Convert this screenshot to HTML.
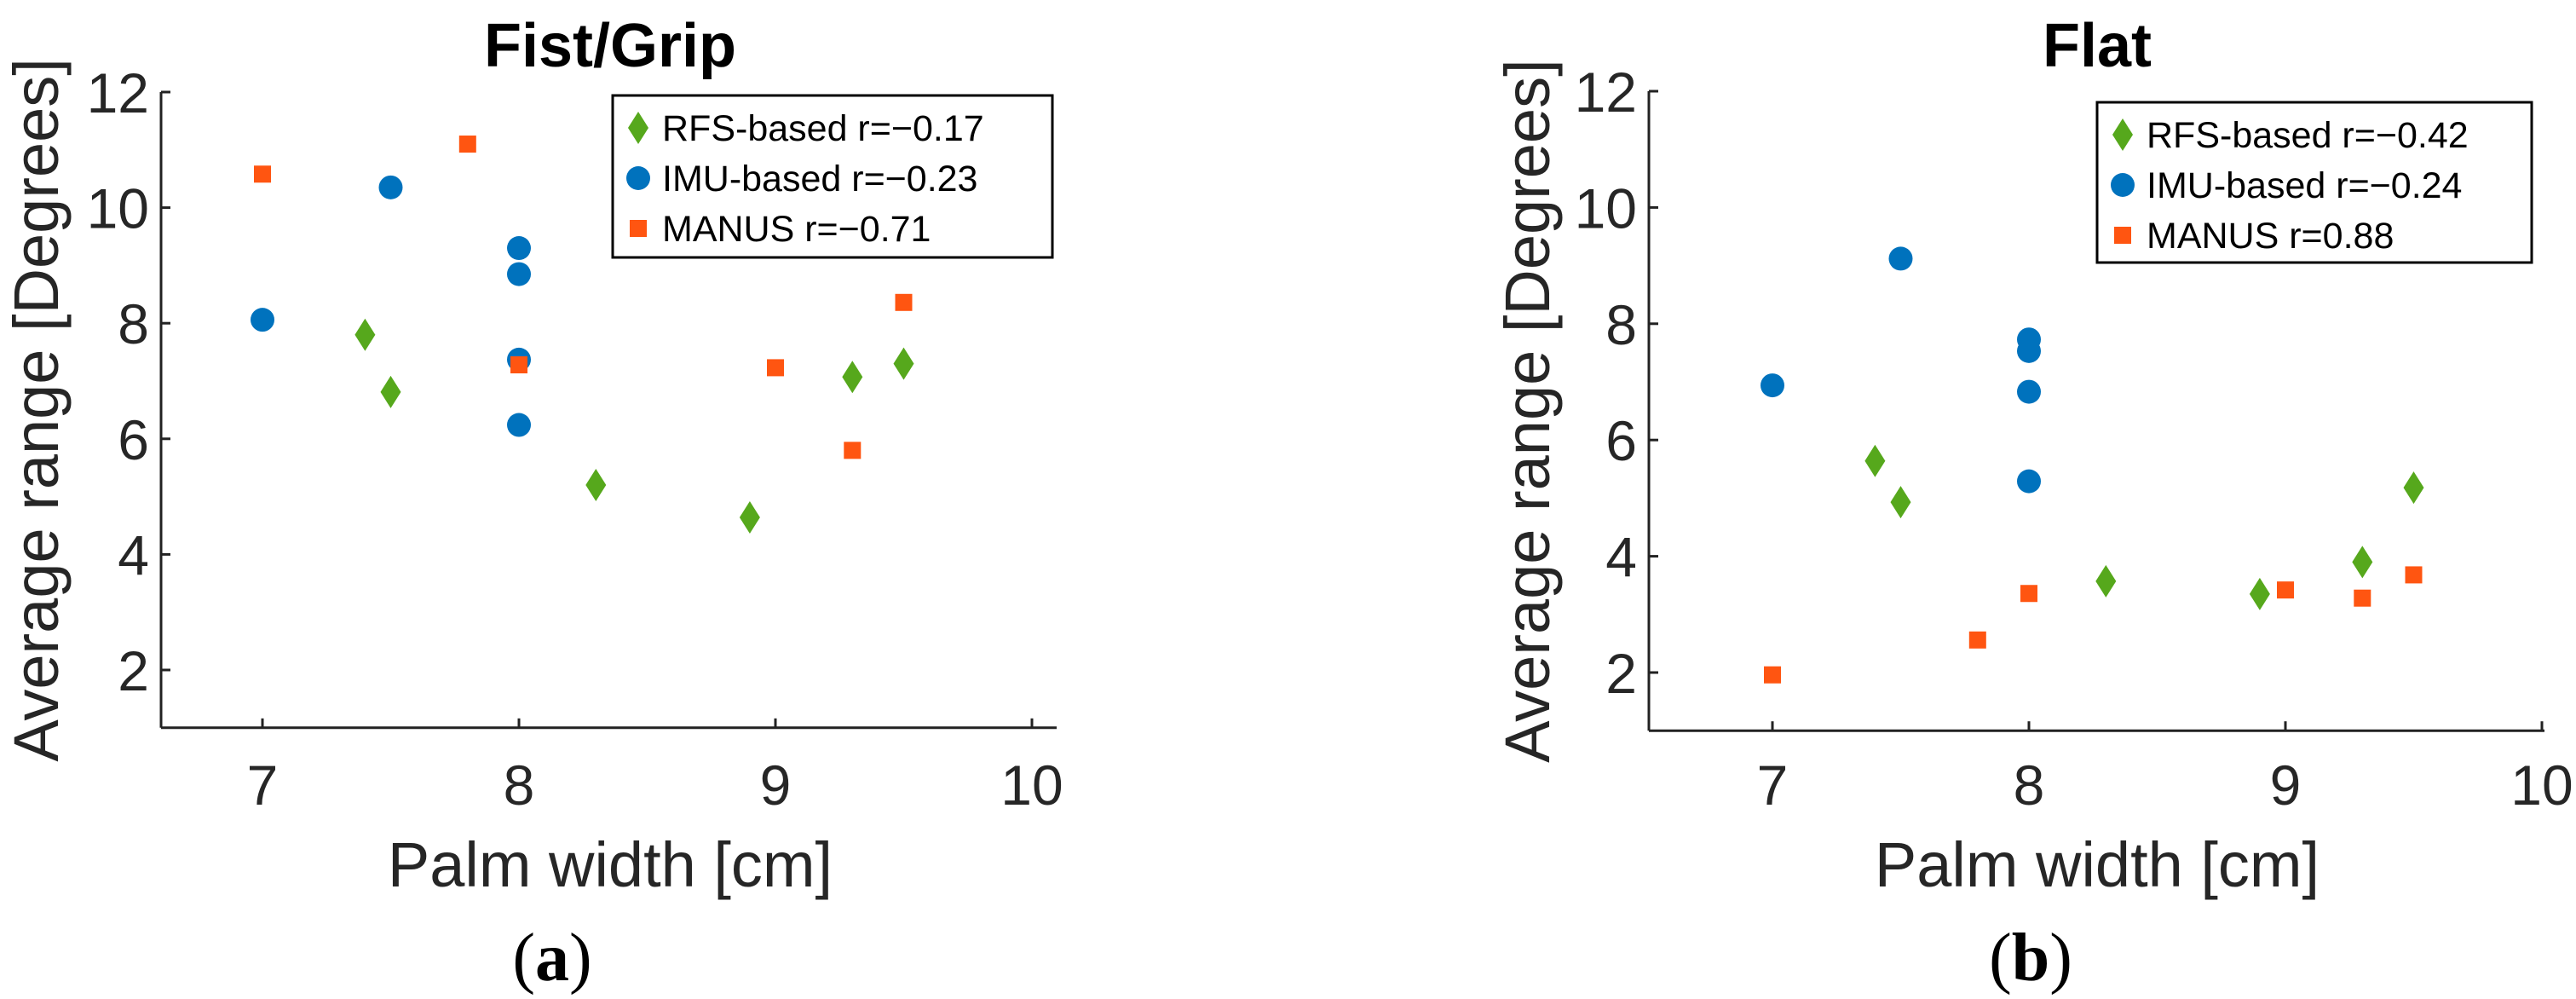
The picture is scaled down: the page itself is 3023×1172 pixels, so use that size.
<!DOCTYPE html>
<html><head><meta charset="utf-8"><style>
html,body{margin:0;padding:0;background:#fff;}
svg{display:block;font-family:"Liberation Sans",Arial,sans-serif;}
</style></head><body>
<svg id="fig" width="3023" height="1172" viewBox="0 0 3023 1172"></svg>
<script>
const xTicks = [7, 8, 9, 10];
const yTicks = [2, 4, 6, 8, 10, 12];
const seriesNames = ["RFS-based", "IMU-based", "MANUS"];
const rA = ["r=\u22120.17", "r=\u22120.23", "r=\u22120.71"];
const rB = ["r=\u22120.42", "r=\u22120.24", "r=0.88"];
const rfsXA = [7.4, 7.5, 8.3, 8.9, 9.3, 9.5];
const rfsYA = [7.8, 6.81, 5.2, 4.64, 7.07, 7.3];
const imuXA = [7, 7.5, 8, 8, 8, 8];
const imuYA = [8.06, 10.35, 9.3, 8.85, 7.37, 6.24];
const manXA = [7, 7.8, 8, 9, 9.3, 9.5];
const manYA = [10.58, 11.1, 7.28, 7.23, 5.8, 8.36];
const rfsXB = [7.4, 7.5, 8.3, 8.9, 9.3, 9.5];
const rfsYB = [5.64, 4.93, 3.57, 3.35, 3.9, 5.18];
const imuXB = [7, 7.5, 8, 8, 8, 8];
const imuYB = [6.94, 9.12, 7.73, 7.53, 6.83, 5.29];
const manXB = [7, 7.8, 8, 9, 9.3, 9.5];
const manYB = [1.96, 2.56, 3.36, 3.42, 3.28, 3.68];

const NS = "http://www.w3.org/2000/svg";
const svg = document.getElementById("fig");
const GREEN = "#56a81c", BLUE = "#0072bd", ORANGE = "#ff5511";
function mk(tag, attrs, parent, text) {
  const e = document.createElementNS(NS, tag);
  for (const k in attrs) e.setAttribute(k, attrs[k]);
  if (text !== undefined) e.textContent = text;
  (parent || svg).appendChild(e);
  return e;
}
function diamond(g, cx, cy) {
  return mk("polygon", {points: `${cx},${cy-19} ${cx+12},${cy} ${cx},${cy+19} ${cx-12},${cy}`, fill: GREEN}, g);
}
function circle(g, cx, cy) { return mk("circle", {cx: cx, cy: cy, r: 14, fill: BLUE}, g); }
function square(g, cx, cy) { return mk("rect", {x: cx-10, y: cy-10, width: 20, height: 20, fill: ORANGE}, g); }

function panel(cfg) {
  const g = mk("g", {});
  
  
  const X = v => cfg.x0 + (v - 7) * 301;
  const Y = v => cfg.yTop + (12 - v) * cfg.ppu;
  const yBot = Y(1);
  const ya = mk("line", {x1: cfg.axX, y1: Y(12), x2: cfg.axX, y2: yBot, stroke: "#222", "stroke-width": 3}, g);
  
  
  const xa = mk("line", {x1: cfg.axX, y1: yBot, x2: cfg.axEnd, y2: yBot, stroke: "#222", "stroke-width": 3}, g);
  
  
  xTicks.forEach(t => {
    mk("line", {x1: X(t), y1: yBot, x2: X(t), y2: yBot - 11, stroke: "#222", "stroke-width": 3}, g);
    const tl = mk("text", {x: X(t), y: 944, "text-anchor": "middle", "font-size": 66, fill: "#262626"}, g, String(t));
    
    
  });
  yTicks.forEach(t => {
    mk("line", {x1: cfg.axX, y1: Y(t), x2: cfg.axX + 11, y2: Y(t), stroke: "#222", "stroke-width": 3}, g);
    const tl = mk("text", {x: cfg.axX - 14, y: Y(t) + 24, "text-anchor": "end", "font-size": 66, fill: "#262626"}, g, String(t));
    
    
  });
  const t = mk("text", {x: cfg.titleX, y: 78, "text-anchor": "middle", "font-size": 72, "font-weight": "bold", fill: "#000"}, g, cfg.title);
  
  
  const xl = mk("text", {x: cfg.titleX, y: 1040, "text-anchor": "middle", "font-size": 74, fill: "#262626"}, g, "Palm width [cm]");
  
  
  const yl = mk("text", {x: 0, y: 0, "text-anchor": "middle", "font-size": 74, fill: "#262626", transform: `translate(${cfg.ylX},${(Y(12)+yBot)/2}) rotate(-90)`}, g, "Average range [Degrees]");
  
  
  const cap = mk("text", {x: cfg.capX, y: 1150, "text-anchor": "middle", "font-size": 80, "font-family": "Liberation Serif, serif", fill: "#000"}, g);
  mk("tspan", {}, cap, "(");
  mk("tspan", {"font-weight": "bold"}, cap, cfg.cap);
  mk("tspan", {}, cap, ")");
  
  
  cfg.rfsX.forEach((v, i) => {
    const m = diamond(g, X(v), Y(cfg.rfsY[i]));
    
    
  });
  cfg.imuX.forEach((v, i) => {
    const m = circle(g, X(v), Y(cfg.imuY[i]));
    
    
  });
  cfg.manX.forEach((v, i) => {
    const m = square(g, X(v), Y(cfg.manY[i]));
    
    
  });
  const lg = mk("g", {}, g);
  
  
  mk("rect", {x: cfg.lx, y: cfg.ly, width: cfg.lw, height: cfg.lh, fill: "#fff", stroke: "#000", "stroke-width": 3}, lg);
  const fns = [diamond, circle, square];
  [0, 1, 2].forEach(i => {
    const cy = cfg.ly + 38 + i * 59;
    const e = mk("g", {}, lg);
    
    
    fns[i](e, cfg.lx + 30, cy);
    mk("text", {x: cfg.lx + 58, y: cy + 15, "font-size": 43, fill: "#000"}, e, seriesNames[i] + " " + cfg.r[i]);
  });
}
panel({id: "panel-a-fist-grip", title: "Fist/Grip", cap: "a", x0: 308, axX: 189, axEnd: 1240, yTop: 108, ppu: 67.8,
  titleX: 716, ylX: 68, capX: 648, lx: 719, ly: 112, lw: 516, lh: 190, r: rA,
  rfsX: rfsXA, rfsY: rfsYA, imuX: imuXA, imuY: imuYA, manX: manXA, manY: manYA});
panel({id: "panel-b-flat", title: "Flat", cap: "b", x0: 2080, axX: 1935, axEnd: 2986, yTop: 107, ppu: 68.2,
  titleX: 2461, ylX: 1818, capX: 2383, lx: 2461, ly: 120, lw: 510, lh: 188, r: rB,
  rfsX: rfsXB, rfsY: rfsYB, imuX: imuXB, imuY: imuYB, manX: manXB, manY: manYB});
</script>
</body></html>
